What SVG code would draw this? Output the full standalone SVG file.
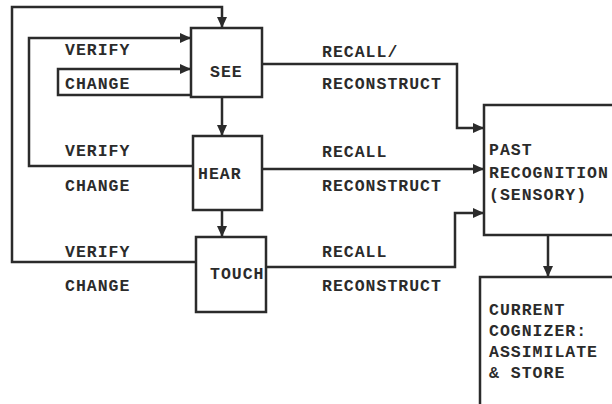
<svg xmlns="http://www.w3.org/2000/svg" width="612" height="404" viewBox="0 0 612 404">
<style>
.box{fill:#fff;stroke:#2b2b2b;stroke-width:2.5}
.ln{fill:none;stroke:#2b2b2b;stroke-width:2.5}
text{font-family:"Liberation Mono","DejaVu Sans Mono",monospace;font-weight:bold;font-size:16.5px;fill:#2b2b2b;letter-spacing:1px}
</style>
<defs>
<marker id="ah" markerUnits="userSpaceOnUse" markerWidth="12" markerHeight="10" refX="11" refY="5" orient="auto">
<path d="M0,0 L11,5 L0,10 Z" fill="#2b2b2b"/>
</marker>
</defs>
<rect width="612" height="404" fill="#fff"/>
<g id="connectors">
<polyline class="ln" points="196,262 12,262 12,7 222,7 222,28" marker-end="url(#ah)"/>
<polyline class="ln" points="193,166 29,166 29,38 191,38" marker-end="url(#ah)"/>
<polyline class="ln" points="191,95 58,95 58,69 191,69" marker-end="url(#ah)"/>
<line class="ln" x1="222" y1="97" x2="222" y2="136" marker-end="url(#ah)"/>
<line class="ln" x1="222" y1="210" x2="222" y2="237" marker-end="url(#ah)"/>
<polyline class="ln" points="262,64 457,64 457,128 484,128" marker-end="url(#ah)"/>
<line class="ln" x1="262" y1="169" x2="484" y2="169" marker-end="url(#ah)"/>
<polyline class="ln" points="266,267 455,267 455,213 484,213" marker-end="url(#ah)"/>
<line class="ln" x1="548" y1="235" x2="548" y2="277" marker-end="url(#ah)"/>
</g>
<g id="labels">
<text x="65" y="55">VERIFY</text>
<text x="65" y="89">CHANGE</text>
<text x="65" y="156">VERIFY</text>
<text x="65" y="191">CHANGE</text>
<text x="65" y="257">VERIFY</text>
<text x="65" y="291">CHANGE</text>
<text x="322" y="57">RECALL/</text>
<text x="322" y="89">RECONSTRUCT</text>
<text x="322" y="157">RECALL</text>
<text x="322" y="191">RECONSTRUCT</text>
<text x="322" y="257">RECALL</text>
<text x="322" y="291">RECONSTRUCT</text>
</g>
<g id="see"><rect class="box" x="191" y="28" width="71" height="69"/><text x="210" y="77">SEE</text></g>
<g id="hear"><rect class="box" x="193" y="136" width="69" height="74"/><text x="198" y="179">HEAR</text></g>
<g id="touch"><rect class="box" x="196" y="237" width="70" height="75"/><text x="210" y="279">TOUCH</text></g>
<g id="past"><rect class="box" x="484" y="105" width="140" height="130"/>
<text x="489" y="155">PAST</text><text x="489" y="178">RECOGNITION</text><text x="489" y="200">(SENSORY)</text></g>
<g id="current"><rect class="box" x="480" y="277" width="140" height="140"/>
<text x="489" y="315">CURRENT</text><text x="489" y="336">COGNIZER:</text><text x="489" y="357">ASSIMILATE</text><text x="489" y="378">&amp; STORE</text></g>
</svg>
